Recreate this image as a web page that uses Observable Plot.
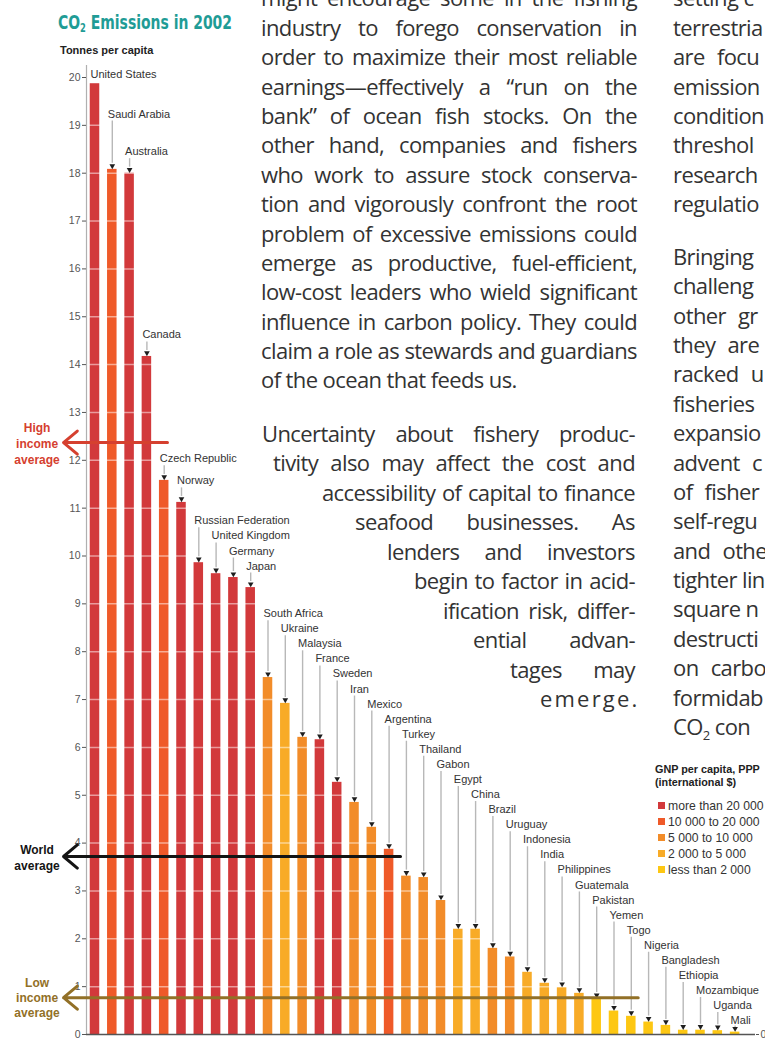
<!DOCTYPE html>
<html>
<head>
<meta charset="utf-8">
<script src="https://cdn.jsdelivr.net/npm/d3@7"></script>
<script src="https://cdn.jsdelivr.net/npm/@observablehq/plot@0.6"></script>
<style>
html, body { margin: 0; padding: 0; background: #fff; }
body { width: 765px; height: 1040px; position: relative; overflow: hidden; font-family: "Liberation Sans", Arial, sans-serif; }
#chart { position: absolute; left: 0; top: 0; }
#chart svg { overflow: visible; }
.body-text { position: absolute; font-family: "Open Sans", sans-serif; font-size: 22px; letter-spacing: -0.6px; color: #333; line-height: 29.4px; white-space: nowrap; }
.body-text div { height: 29.4px; }
.jl { text-align: justify; text-align-last: justify; }
#title { position: absolute; left: 58px; top: 10px; font-family: "DejaVu Sans Condensed", "Liberation Sans", sans-serif; font-weight: bold; font-size: 20px; color: #1f9c96; white-space: nowrap; line-height: 24px; transform-origin: 0 50%; }
#title sub { font-size: 12px; vertical-align: -3px; line-height: 0; }
#unit { position: absolute; left: 60px; top: 44px; font-weight: bold; font-size: 11px; color: #222; white-space: nowrap; }
#legend { position: absolute; left: 655px; top: 763px; color: #222; white-space: nowrap; }
#legend .lt { font-weight: bold; font-size: 10.8px; line-height: 13px; }
#legend .li { font-size: 12.2px; line-height: 16px; height: 16px; position: relative; padding-left: 13px; color: #333; }
#legend .sw { position: absolute; left: 3px; top: 4px; width: 7px; height: 7px; }
sub.s { font-size: 13px; vertical-align: -5px; line-height: 0; }
</style>
</head>
<body>
<div id="chart"></div>
<div id="title">CO<sub>2</sub> Emissions in 2002</div>
<div id="unit">Tonnes per capita</div>
<div id="legend"></div>
<div id="p1" class="body-text" style="left:261px; top:-16.6px; width:376px;"></div>
<div id="p2" class="body-text" style="left:0; top:418.8px;"></div>
<div id="p3" class="body-text" style="left:673px; top:-16.6px;"></div>
<div id="p4" class="body-text" style="left:673px; top:241.8px;"></div>
<script>
// ---------------- chart data ----------------
const countries = ["United States","Saudi Arabia","Australia","Canada","Czech Republic","Norway",
  "Russian Federation","United Kingdom","Germany","Japan","South Africa","Ukraine","Malaysia",
  "France","Sweden","Iran","Mexico","Argentina","Turkey","Thailand","Gabon","Egypt","China",
  "Brazil","Uruguay","Indonesia","India","Philippines","Guatemala","Pakistan","Yemen","Togo",
  "Nigeria","Bangladesh","Ethiopia","Mozambique","Uganda","Mali"];
// tonnes of CO2 per capita, 2002
const emissions = [19.87,18.08,18.0,14.17,11.58,11.12,9.86,9.63,9.55,9.34,7.46,6.92,6.21,
  6.16,5.27,4.85,4.33,3.87,3.31,3.28,2.8,2.2,2.2,1.8,1.62,1.3,1.07,0.98,0.86,0.75,0.49,0.38,
  0.26,0.19,0.09,0.09,0.08,0.05];
// GNP per capita, PPP classes
const gnpGroups = ["more than 20 000","10 000 to 20 000","5 000 to 10 000","2 000 to 5 000","less than 2 000"];
const gnpClass = [0,1,0,0,1,0,0,0,0,0, 2,3,2,0,0,2,2,1,2,2, 2,3,3,2,2,3,3,3,3,4, 4,4,4,4,4,4,4,4];
const averageNames = ["High income average","World average","Low income average"];
const averageValues = [12.37, 3.72, 0.77];
const yTicks = d3.range(0, 21);

// ---------------- styles ----------------
const groupColors = ["#d2393b","#ef5a29","#f28c29","#f8ab27","#fdc713"];
const avgColors = ["#d5402f","#141414","#927027"];

const rows = countries.map((c, i) => ({i, country: c, value: emissions[i], group: gnpGroups[gnpClass[i]]}));

// label cascade: each label sits above its bar and one line above the label on its right
const STEP = 0.315, GAP = 0.45;
const level = new Array(rows.length);
for (let i = rows.length - 1; i >= 0; i--) {
  const own = rows[i].value + (i === 0 ? 0.2 : (i === rows.length - 1 ? 0.24 : GAP));
  level[i] = i === rows.length - 1 ? own : Math.max(own, level[i + 1] + STEP);
}
// a long label whose right neighbour is nearly as tall is lifted an extra line pair
level[1] = Math.max(level[1], level[2] + 2.5 * STEP);
rows.forEach(d => d.level = level[d.i]);
const led = rows.filter(d => d.i > 0);

const avgRows = averageNames.map((n, k) => ({name: n, value: averageValues[k]}));
// extent of each average arrow (in bar slots)
const arrowEnds = {"High income average": 4.19, "World average": 17.66, "Low income average": 31.4};
const avgLabel = {"High income average": "High\nincome\naverage", "World average": "World\naverage", "Low income average": "Low\nincome\naverage"};

const marks = [
  Plot.rectY(rows, {x1: d => d.i - 0.275, x2: d => d.i + 0.275, y: "value", fill: "group"}),
  Plot.ruleY(yTicks.filter(t => t > 0), {stroke: "#ffffff", strokeOpacity: 0.5, strokeWidth: 1.5}),
  Plot.ruleX([0], {x: d => d, dx: -8.5, y1: 0, y2: 20.25, stroke: "#b0b0b0", strokeWidth: 1.2}),
  Plot.ruleY([0], {stroke: "#555", strokeWidth: 1.5}),
  Plot.axisY({ticks: yTicks, tickSize: 4, tickPadding: 2, fontSize: 10.5, color: "#555", label: null}),
  Plot.axisY({anchor: "right", ticks: [0], tickSize: 3, tickPadding: 2, fontSize: 10.5, color: "#555", label: null}),
  Plot.ruleX(led, {x: "i", y1: "level", y2: "value", insetTop: 7, insetBottom: 6, stroke: "#b8b8b8", strokeWidth: 1.4}),
  Plot.dot(led, {x: "i", y: "value", dy: -3.5, symbol: "triangle", rotate: 180, r: 2.1, fill: "#1e1e1e", stroke: null}),
  Plot.text(rows, {x: "i", y: "level", text: "country", textAnchor: "start", dx: -4.5, fontSize: 11, fill: "#333"})
];
avgRows.forEach((a, k) => {
  marks.push(Plot.arrow([a], {x1: arrowEnds[a.name], x2: -1.82, y1: "value", y2: "value",
    stroke: avgColors[k], strokeWidth: 3, headLength: 9, headAngle: 80}));
  marks.push(Plot.text([a], {x: -3.35, y: "value", text: d => avgLabel[d.name], fill: avgColors[k],
    fontWeight: "bold", fontSize: 12, lineHeight: k === 2 ? 1.25 : 1.33, textAnchor: "middle"}));
});

const chart = Plot.plot({
  width: 765, height: 1040,
  marginTop: 77, marginBottom: 6, marginLeft: 86, marginRight: 10,
  style: {fontFamily: "'Liberation Sans', Arial, sans-serif", background: "transparent", overflow: "visible"},
  x: {type: "linear", domain: [0, 37], range: [94.5, 734.6], axis: null},
  y: {domain: [0, 20], axis: null},
  color: {domain: gnpGroups, range: groupColors},
  marks
});
document.getElementById("chart").appendChild(chart);

// fit title to its width in the reference
const title = document.getElementById("title");
const tw = title.getBoundingClientRect().width;
title.style.transform = `scaleX(${174 / tw})`;

// ---------------- legend ----------------
const lg = document.getElementById("legend");
lg.innerHTML = '<div class="lt">GNP per capita, PPP<br>(international $)</div><div style="height:9px"></div>' +
  gnpGroups.map((g, k) => `<div class="li"><span class="sw" style="background:${groupColors[k]}"></span>${g}</div>`).join("");

// ---------------- body text ----------------
const para1 = ["might encourage some in the fishing","industry to forego conservation in",
  "order to maximize their most reliable","earnings\u2014effectively a \u201crun on the",
  "bank\u201d of ocean fish stocks. On the","other hand, companies and fishers",
  "who work to assure stock conserva-","tion and vigorously confront the root",
  "problem of excessive emissions could","emerge as productive, fuel-efficient,",
  "low-cost leaders who wield significant","influence in carbon policy. They could",
  "claim a role as stewards and guardians","of the ocean that feeds us."];
document.getElementById("p1").innerHTML = para1.map((t, k) =>
  `<div class="${k < para1.length - 1 ? "jl" : ""}">${t}</div>`).join("");

const para2 = [[262,"Uncertainty about fishery produc-"],[273,"tivity also may affect the cost and"],
  [322,"accessibility of capital to finance"],[355,"seafood businesses. As"],[387,"lenders and investors"],
  [414,"begin to factor in acid-"],[443,"ification risk, differ-"],[473,"ential advan-"],
  [510,"tages may"],[540,"emerge."]];
document.getElementById("p2").innerHTML = para2.map(([x, t], k) =>
  k === para2.length - 1
    ? `<div style="position:relative;left:${x}px;width:${635 - x}px;height:29.5px;text-align:right;letter-spacing:2.2px">${t}</div>`
    : `<div class="jl" style="position:relative;left:${x}px;width:${635 - x}px;height:29.5px">${t}</div>`).join("");

const para3 = ["setting c","terrestria","are focu","emission","condition","threshol","research","regulatio"];
const para4 = ["Bringing","challeng","other gr","they are","racked u","fisheries","expansio","advent c",
  "of fisher","self-regu","and othe","tighter lin","square n","destructi","on carbo","formidab","CO<sub class=\"s\">2</sub> con"];
const wide = new Set(["are focu","other gr","they are","racked u","advent c","of fisher","and othe","on carbo"]);
document.getElementById("p3").innerHTML = para3.map(t => `<div style="${wide.has(t) ? "word-spacing:7px" : ""}">${t}</div>`).join("");
document.getElementById("p4").innerHTML = para4.map(t => `<div style="${wide.has(t) ? "word-spacing:7px" : ""}">${t}</div>`).join("");
</script>
</body>
</html>
